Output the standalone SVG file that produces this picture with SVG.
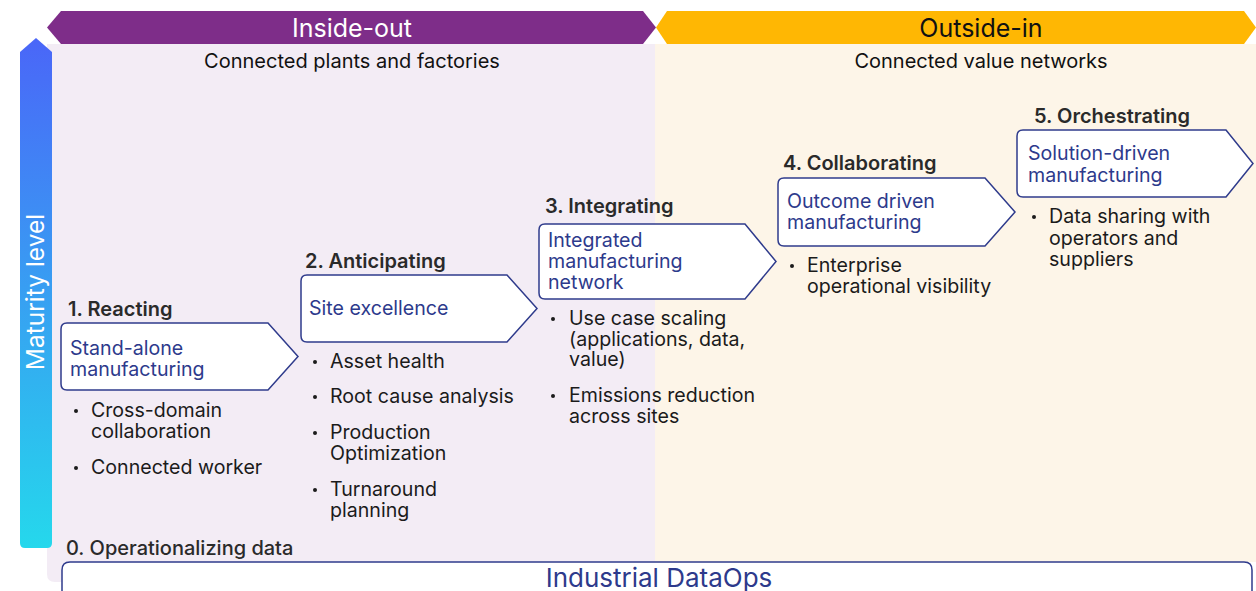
<svg xmlns="http://www.w3.org/2000/svg" width="1256" height="591" viewBox="0 0 1256 591">
<defs>
<linearGradient id="mat" x1="0" y1="0" x2="0" y2="1">
<stop offset="0" stop-color="#4a66f8"/>
<stop offset="1" stop-color="#25d8ec"/>
</linearGradient>
<style>
text{font-family:Inter,"Noto Sans","Liberation Sans",sans-serif;}
.band{font-size:25px;}
.sub{font-size:20px;fill:#111;}
.head{font-size:20px;font-weight:600;fill:#2a2a2a;}
.box{fill:#fff;stroke:#2f3b8c;stroke-width:1.5;}
.bt{font-size:19.6px;fill:#2d3a8c;}
.li{font-size:19.6px;fill:#1b1b1b;}
.dot{fill:#1b1b1b;}
</style>
</defs>
<rect width="1256" height="591" fill="#fff"/>
<g id="backgrounds">
<path d="M47,44 H655 V582 H55 Q47,582 47,574 Z" fill="#f3ecf5"/>
<rect x="655" y="44" width="601" height="518" fill="#fdf5e8"/>
</g>
<g id="inside-out">
<path d="M61,11 H643 L656,27.5 L643,44 H61 L47,27.5 Z" fill="#7e2d89"/>
<text class="band" x="352" y="37" text-anchor="middle" fill="#fff">Inside-out</text>
<text class="sub" x="352" y="68" text-anchor="middle">Connected plants and factories</text>
</g>
<g id="outside-in">
<path d="M667,11 H1244 L1256,27.5 L1244,44 H667 L656,27.5 Z" fill="#ffb703"/>
<text class="band" x="981" y="37" text-anchor="middle" fill="#111">Outside-in</text>
<text class="sub" x="981" y="68" text-anchor="middle">Connected value networks</text>
</g>
<g id="maturity">
<path d="M20,52 L36,38 L52,52 V543 Q52,548 47,548 H25 Q20,548 20,543 Z" fill="url(#mat)"/>
<text x="0" y="0" transform="translate(44,292) rotate(-90)" text-anchor="middle" font-size="24.5" fill="#fff">Maturity level</text>
</g>
<g id="connectors"></g>
<g id="step1">
<text class="head" x="68" y="316">1. Reacting</text>
<path class="box" d="M67,323 H268 L298,356.5 L268,390 H67 Q61,390 61,384 V329 Q61,323 67,323 Z"/>
<text class="bt" x="70" y="355"><tspan x="70">Stand-alone</tspan><tspan x="70" dy="21">manufacturing</tspan></text>
<circle class="dot" cx="76" cy="411" r="2"/>
<text class="li" x="91" y="417"><tspan x="91">Cross-domain</tspan><tspan x="91" dy="21">collaboration</tspan></text>
<circle class="dot" cx="76" cy="468" r="2"/>
<text class="li" x="91" y="474">Connected worker</text>
</g>
<g id="step2">
<text class="head" x="305" y="268">2. Anticipating</text>
<path class="box" d="M307,275 H507 L537,308.5 L507,342 H307 Q301,342 301,336 V281 Q301,275 307,275 Z"/>
<text class="bt" x="309" y="315">Site excellence</text>
<circle class="dot" cx="315" cy="362" r="2"/>
<text class="li" x="330" y="368">Asset health</text>
<circle class="dot" cx="315" cy="397" r="2"/>
<text class="li" x="330" y="403">Root cause analysis</text>
<circle class="dot" cx="315" cy="433" r="2"/>
<text class="li" x="330" y="439"><tspan x="330">Production</tspan><tspan x="330" dy="21">Optimization</tspan></text>
<circle class="dot" cx="315" cy="490" r="2"/>
<text class="li" x="330" y="496"><tspan x="330">Turnaround</tspan><tspan x="330" dy="21">planning</tspan></text>
</g>
<g id="step3">
<text class="head" x="545" y="213">3. Integrating</text>
<path class="box" d="M545,224 H745 L776,261.5 L745,299 H545 Q539,299 539,293 V230 Q539,224 545,224 Z"/>
<text class="bt" x="548" y="247"><tspan x="548">Integrated</tspan><tspan x="548" dy="21">manufacturing</tspan><tspan x="548" dy="21">network</tspan></text>
<circle class="dot" cx="553" cy="319" r="2"/>
<text class="li" x="569" y="325"><tspan x="569">Use case scaling</tspan><tspan x="569" dy="20.5">(applications, data,</tspan><tspan x="569" dy="20.5">value)</tspan></text>
<circle class="dot" cx="553" cy="396" r="2"/>
<text class="li" x="569" y="402"><tspan x="569">Emissions reduction</tspan><tspan x="569" dy="21">across sites</tspan></text>
</g>
<g id="step4">
<text class="head" x="783" y="170">4. Collaborating</text>
<path class="box" d="M784,178 H985 L1015,212 L985,246 H784 Q778,246 778,240 V184 Q778,178 784,178 Z"/>
<text class="bt" x="787" y="208"><tspan x="787">Outcome driven</tspan><tspan x="787" dy="21">manufacturing</tspan></text>
<circle class="dot" cx="792" cy="266" r="2"/>
<text class="li" x="807" y="272"><tspan x="807">Enterprise</tspan><tspan x="807" dy="21">operational visibility</tspan></text>
</g>
<g id="step5">
<text class="head" x="1034" y="123">5. Orchestrating</text>
<path class="box" d="M1023,130 H1226 L1253,163.5 L1226,197 H1023 Q1017,197 1017,191 V136 Q1017,130 1023,130 Z"/>
<text class="bt" x="1028" y="160"><tspan x="1028">Solution-driven</tspan><tspan x="1028" dy="22">manufacturing</tspan></text>
<circle class="dot" cx="1034" cy="217" r="2"/>
<text class="li" x="1049" y="223"><tspan x="1049">Data sharing with</tspan><tspan x="1049" dy="21.5">operators and</tspan><tspan x="1049" dy="21.5">suppliers</tspan></text>
</g>
<g id="step0">
<text class="head" x="66" y="555" style="font-weight:500">0. Operationalizing data</text>
<path class="box" d="M70,562 H1244 Q1252,562 1252,570 V600 H62 V570 Q62,562 70,562 Z"/>
<text x="659" y="587" text-anchor="middle" font-size="26" fill="#2d3a8c">Industrial DataOps</text>
</g>
</svg>
